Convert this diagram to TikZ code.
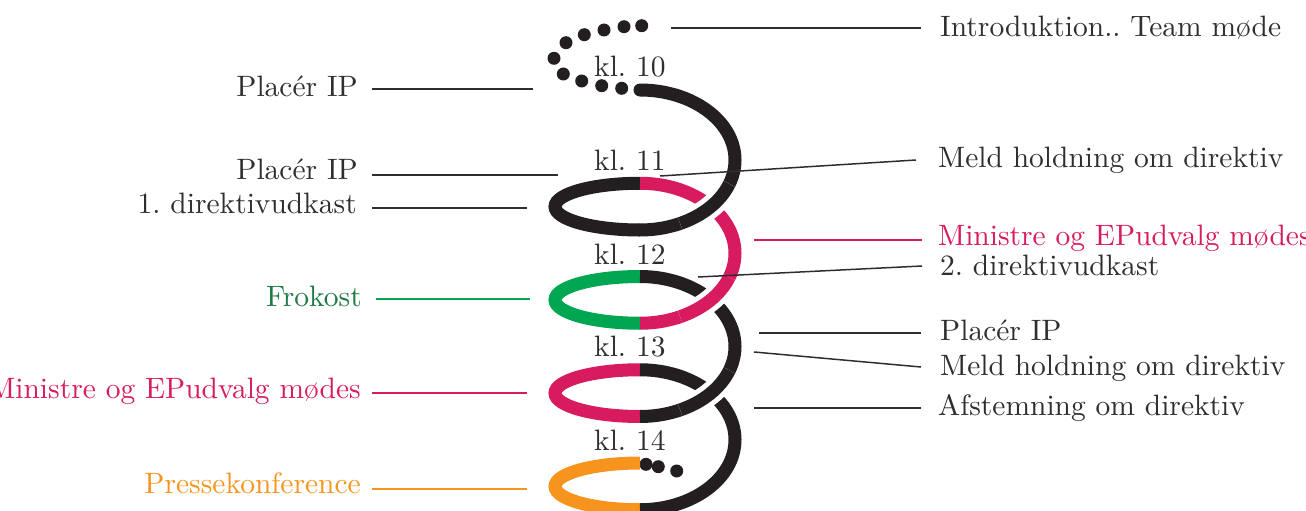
\documentclass[tikz,border=0pt]{standalone}
\usepackage{fontspec}
\setmainfont{lmroman10-regular.otf}
\frenchspacing
\definecolor{ink}{HTML}{231F20}
\definecolor{mag}{HTML}{D81B5E}
\definecolor{grn}{HTML}{00A651}
\definecolor{org}{HTML}{F7941D}
\definecolor{txt}{HTML}{2E2E2E}
\definecolor{grntxt}{HTML}{1E7B45}
\begin{document}
\begin{tikzpicture}[x=1pt,y=-1pt,
  coil/.style={line width=13pt},
  gapw/.style={draw=white,line width=23pt},
  lead/.style={line width=1.5pt, draw=txt},
  lbl/.style={font=\fontsize{29.5}{35}\selectfont, text=txt, inner sep=0pt},
  lblR/.style={lbl, anchor=base west},
  lblL/.style={lbl, anchor=base east},
  kl/.style={lbl, anchor=base west},
  bead/.style={circle, fill=ink, inner sep=0pt, minimum size=13pt}]

\useasboundingbox (0,0) rectangle (1306,511);

% ---- top beads
\foreach \p [count=\i] in {(641.7,25.7),(624,26.7),(604,30),(584.3,34.7),(566,42.7),(554,58.3),(563.3,74),(581.7,81),(601.7,85.7),(621.7,88.3)}
  \node[bead] (b\i) at \p {};

% ---- bottom beads
\node[bead] (e1) at (646,464.3) {};
\node[bead] (e2) at (658.3,466.7) {};
\node[bead] (e3) at (676.7,471) {};

% ---- back loops (bottom -> left -> top)
\draw[coil,ink] (640,230) arc[start angle=90,end angle=270,x radius=85,y radius=23.375];
\draw[coil,grn] (640,323.25) arc[start angle=90,end angle=270,x radius=85,y radius=23.375];
\draw[coil,mag] (640,416.5) arc[start angle=90,end angle=270,x radius=85,y radius=23.375];
\draw[coil,org] (640,509.75) arc[start angle=90,end angle=270,x radius=85,y radius=23.375];

% ---- front arcs (top -> right -> bottom)
\draw[coil,ink] (640,369.75) arc[start angle=-90,end angle=90,x radius=95,y radius=70];
\draw[coil,ink] (640,276.5) arc[start angle=-90,end angle=90,x radius=95,y radius=70];
\draw[coil,mag] (640,183.25) arc[start angle=-90,end angle=90,x radius=95,y radius=70];
\draw[coil,ink,line cap=round] (640,90) arc[start angle=-90,end angle=90,x radius=95,y radius=70];

% ---- over-crossings with white gap
\draw[gapw] (729.27,370.44) arc[start angle=20,end angle=65,x radius=95,y radius=70];
\draw[coil,ink] (729.27,370.44) arc[start angle=20,end angle=65,x radius=95,y radius=70];
\draw[gapw] (729.27,277.19) arc[start angle=20,end angle=65,x radius=95,y radius=70];
\draw[coil,mag] (729.27,277.19) arc[start angle=20,end angle=65,x radius=95,y radius=70];
\draw[gapw] (729.27,183.94) arc[start angle=20,end angle=65,x radius=95,y radius=70];
\draw[coil,ink] (729.27,183.94) arc[start angle=20,end angle=65,x radius=95,y radius=70];

% ---- hour labels
\node[kl] (k10) at (594,77) {kl. 10};
\node[kl] (k11) at (594,170) {kl. 11};
\node[kl] (k12) at (594,264) {kl. 12};
\node[kl] (k13) at (594,356) {kl. 13};
\node[kl] (k14) at (594,450) {kl. 14};

% ---- right labels
\node[lblR] (r1) at (940,36.5) {Introduktion.. Team møde};
\node[lblR] (r2) at (938,167.5) {Meld holdning om direktiv};
\node[lblR,text=mag] (r3) at (938,245.5) {Ministre og EPudvalg mødes};
\node[lblR] (r4) at (940,275.5) {2. direktivudkast};
\node[lblR] (r5) at (940,340.5) {Placér IP};
\node[lblR] (r6) at (940,375.5) {Meld holdning om direktiv};
\node[lblR] (r7) at (938,415.5) {Afstemning om direktiv};

% ---- left labels
\node[lblL] (l1) at (358,96.5) {Placér IP};
\node[lblL] (l2) at (358,179.5) {Placér IP};
\node[lblL] (l3) at (357,213.5) {1. direktivudkast};
\node[lblL,text=grntxt] (l4) at (362,306.5) {Frokost};
\node[lblL,text=mag] (l5) at (361,398.5) {Ministre og EPudvalg mødes};
\node[lblL,text=org] (l6) at (361,493.5) {Pressekonference};

% ---- leader end points
\coordinate (r1a) at (671,28);   \coordinate (r1b) at (921,28);
\coordinate (r2a) at (660,176);  \coordinate (r2b) at (916,160);
\coordinate (r3a) at (754,240);  \coordinate (r3b) at (922,240);
\coordinate (r4a) at (698,277);  \coordinate (r4b) at (922,266);
\coordinate (r5a) at (759,333);  \coordinate (r5b) at (921,333);
\coordinate (r6a) at (754,352);  \coordinate (r6b) at (921,367);
\coordinate (r7a) at (754,408);  \coordinate (r7b) at (921,408);
\coordinate (l1a) at (372,89);   \coordinate (l1b) at (533,89);
\coordinate (l2a) at (372,175);  \coordinate (l2b) at (558,175);
\coordinate (l3a) at (372,208);  \coordinate (l3b) at (527,208);
\coordinate (l4a) at (376,299);  \coordinate (l4b) at (530,299);
\coordinate (l5a) at (372,393);  \coordinate (l5b) at (527,393);
\coordinate (l6a) at (372,489);  \coordinate (l6b) at (527,489);

\draw[lead] (r1a) -- (r1b);
\draw[lead] (r2a) -- (r2b);
\draw[lead,draw=mag] (r3a) -- (r3b);
\draw[lead] (r4a) -- (r4b);
\draw[lead] (r5a) -- (r5b);
\draw[lead] (r6a) -- (r6b);
\draw[lead] (r7a) -- (r7b);
\draw[lead] (l1a) -- (l1b);
\draw[lead] (l2a) -- (l2b);
\draw[lead] (l3a) -- (l3b);
\draw[lead,draw=grn] (l4a) -- (l4b);
\draw[lead,draw=mag] (l5a) -- (l5b);
\draw[lead,draw=org] (l6a) -- (l6b);
\end{tikzpicture}
\end{document}
